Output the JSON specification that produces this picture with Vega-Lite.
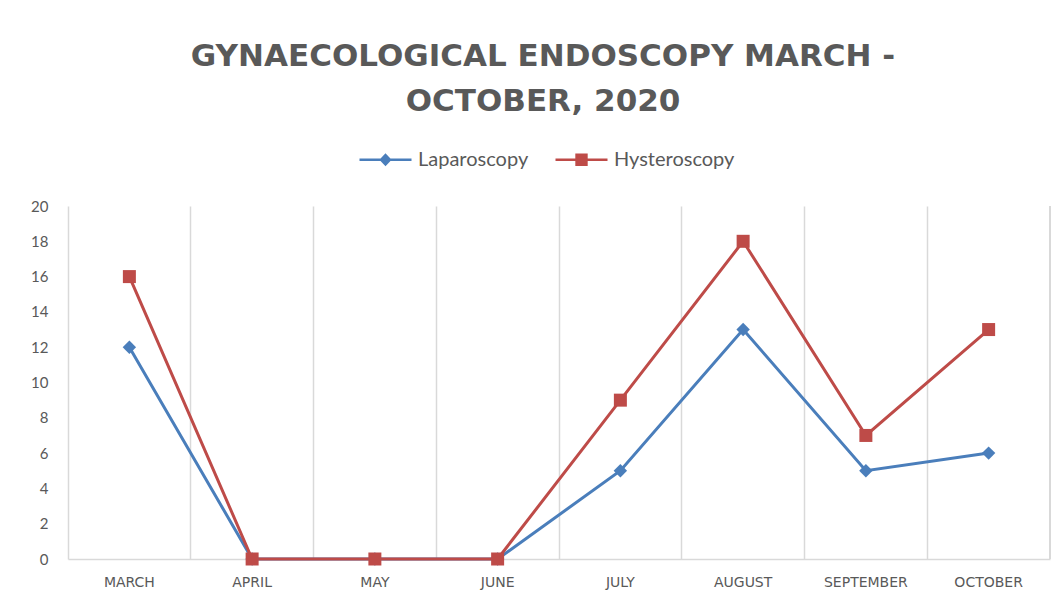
{
  "$schema": "https://vega.github.io/schema/vega-lite/v6.json",
  "width": 982,
  "height": 353,
  "autosize": "none",
  "padding": {"left": 68, "top": 206, "right": 12, "bottom": 41},
  "background": "white",
  "config": {
    "view": {"stroke": null},
    "font": "Lato"
  },
  "title": {
    "text": ["GYNAECOLOGICAL ENDOSCOPY MARCH -", "OCTOBER, 2020"],
    "anchor": "middle",
    "frame": "group",
    "dx": -16,
    "offset": 14,
    "fontSize": 31,
    "fontWeight": "bold",
    "font": "DejaVu Sans",
    "color": "#595959",
    "lineHeight": 45
  },
  "data": {
    "values": [
      {"month": "MARCH", "series": "Laparoscopy", "count": 12},
      {"month": "APRIL", "series": "Laparoscopy", "count": 0},
      {"month": "MAY", "series": "Laparoscopy", "count": 0},
      {"month": "JUNE", "series": "Laparoscopy", "count": 0},
      {"month": "JULY", "series": "Laparoscopy", "count": 5},
      {"month": "AUGUST", "series": "Laparoscopy", "count": 13},
      {"month": "SEPTEMBER", "series": "Laparoscopy", "count": 5},
      {"month": "OCTOBER", "series": "Laparoscopy", "count": 6},
      {"month": "MARCH", "series": "Hysteroscopy", "count": 16},
      {"month": "APRIL", "series": "Hysteroscopy", "count": 0},
      {"month": "MAY", "series": "Hysteroscopy", "count": 0},
      {"month": "JUNE", "series": "Hysteroscopy", "count": 0},
      {"month": "JULY", "series": "Hysteroscopy", "count": 9},
      {"month": "AUGUST", "series": "Hysteroscopy", "count": 18},
      {"month": "SEPTEMBER", "series": "Hysteroscopy", "count": 7},
      {"month": "OCTOBER", "series": "Hysteroscopy", "count": 13}
    ]
  },
  "encoding": {
    "x": {
      "field": "month",
      "type": "nominal",
      "scale": {"type": "band", "paddingInner": 0, "paddingOuter": 0, "domain": ["MARCH", "APRIL", "MAY", "JUNE", "JULY", "AUGUST", "SEPTEMBER", "OCTOBER"]},
      "axis": {
        "title": null,
        "labelAngle": 0,
        "labelFontSize": 14,
        "labelFont": "DejaVu Sans",
        "labelColor": "#595959",
        "labelPadding": 16,
        "bandPosition": 0,
        "ticks": false,
        "domainColor": "#d9d9d9",
        "domainWidth": 1.5,
        "grid": true,
        "gridColor": "#d9d9d9",
        "gridWidth": 1.5
      }
    },
    "y": {
      "field": "count",
      "type": "quantitative",
      "scale": {"domain": [0, 20], "nice": false},
      "axis": {
        "title": null,
        "values": [0, 2, 4, 6, 8, 10, 12, 14, 16, 18, 20],
        "labelFontSize": 15,
        "labelColor": "#595959",
        "labelPadding": 20,
        "ticks": false,
        "domain": false,
        "grid": false
      }
    }
  },
  "layer": [
    {
      "mark": {"type": "rule", "color": "#d9d9d9", "strokeWidth": 1.5},
      "encoding": {
        "x": {"datum": "OCTOBER", "bandPosition": 1},
        "y": {"datum": 0},
        "y2": {"datum": 20}
      }
    },
    {
      "mark": {"type": "line", "strokeWidth": 3},
      "encoding": {
        "x": {"field": "month", "type": "nominal", "bandPosition": 0.5},
        "color": {
          "field": "series",
          "type": "nominal",
          "scale": {"domain": ["Laparoscopy", "Hysteroscopy"], "range": ["#4a7ebb", "#be4b48"]},
          "legend": {
            "title": null,
            "orient": "none",
            "direction": "horizontal",
            "legendX": 290,
            "legendY": -74,
            "labelFontSize": 20,
            "labelColor": "#595959",
            "labelOffset": 5,
            "columnPadding": 21,
            "symbolSize": 2704,
            "symbolStrokeWidth": 2.5,
            "encode": {
              "symbols": {
                "update": {
                  "shape": {"signal": "datum.value === 'Laparoscopy' ? 'M-1,0L1,0M0,-0.18L0.17,0L0,0.18L-0.17,0Z' : 'M-1,0L1,0M-0.19,-0.19L0.19,-0.19L0.19,0.19L-0.19,0.19Z'"},
                  "fill": {"scale": "color", "field": "value"},
                  "stroke": {"scale": "color", "field": "value"},
                  "opacity": {"value": 1}
                }
              }
            }
          }
        }
      }
    },
    {
      "transform": [{"filter": "datum.series === 'Laparoscopy'"}],
      "mark": {"type": "point", "filled": true, "opacity": 1, "size": 180, "shape": "diamond", "color": "#4a7ebb"},
      "encoding": {
        "x": {"field": "month", "type": "nominal", "bandPosition": 0.5}
      }
    },
    {
      "transform": [{"filter": "datum.series === 'Hysteroscopy'"}],
      "mark": {"type": "point", "filled": true, "opacity": 1, "size": 169, "shape": "square", "color": "#be4b48"},
      "encoding": {
        "x": {"field": "month", "type": "nominal", "bandPosition": 0.5}
      }
    }
  ]
}
